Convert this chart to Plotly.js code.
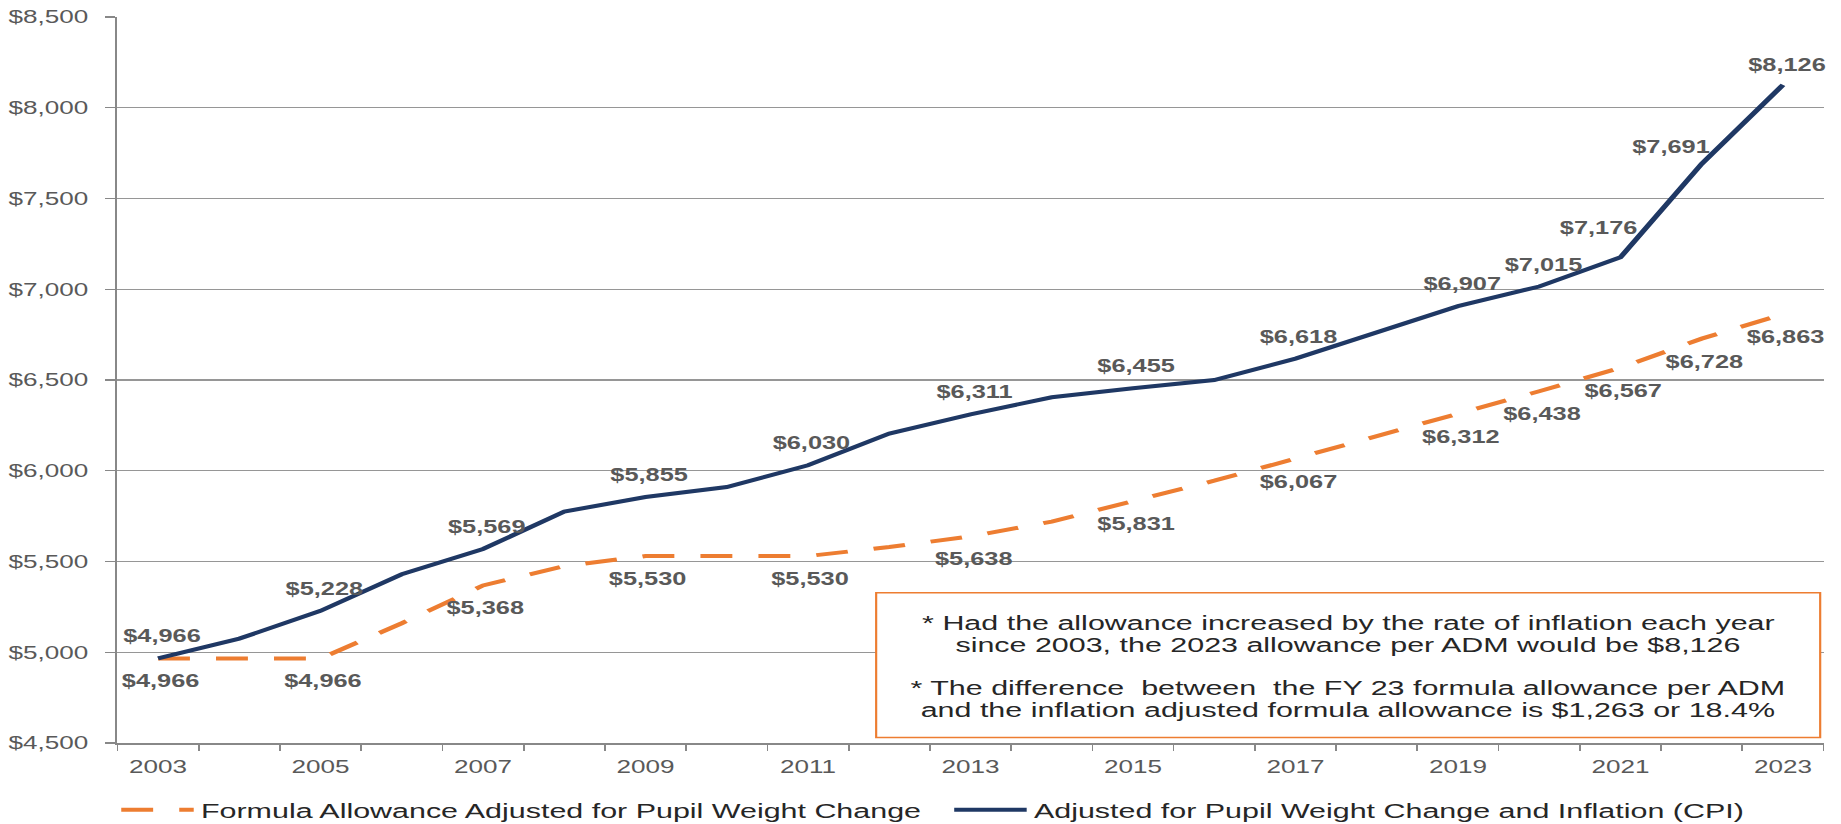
<!DOCTYPE html>
<html>
<head>
<meta charset="utf-8">
<script src="https://cdn.plot.ly/plotly-3.0.1.min.js"></script>
<style>
  html, body { margin:0; padding:0; background:#fff; overflow:hidden; }
  #wrap { width:1270px; height:824px; transform:scaleX(1.4496); transform-origin:0 0; }
</style>
</head>
<body>
<div id="wrap"></div>
<script>
// ---- data ----
const years = [2003,2004,2005,2006,2007,2008,2009,2010,2011,2012,2013,2014,2015,2016,2017,2018,2019,2020,2021,2022,2023];
const formulaAllowance = [4966,4966,4966,5160,5368,5475,5530,5530,5530,5580,5638,5720,5831,5945,6067,6190,6312,6438,6567,6728,6863];
const inflationAdjusted = [4966,5075,5228,5430,5569,5775,5855,5910,6030,6205,6311,6405,6455,6500,6618,6765,6907,7015,7176,7691,8126];
const labelYears = [2003,2005,2007,2009,2011,2013,2015,2017,2019,2020,2021,2022,2023];
const tickYears = [2003,2005,2007,2009,2011,2013,2015,2017,2019,2021,2023];
const seriesNames = ["Formula Allowance Adjusted for Pupil Weight Change", "Adjusted for Pupil Weight Change and Inflation (CPI)"];
const noteLines = [
  "* Had the allowance increased by the rate of inflation each year",
  "since 2003, the 2023 allowance per ADM would be $8,126",
  "* The difference  between  the FY 23 formula allowance per ADM",
  "and the inflation adjusted formula allowance is $1,263 or 18.4%"
];

// ---- styling ----
const FONT = "Liberation Sans, Arial, sans-serif";
const ORANGE = "#ED7D31";
const NAVY = "#1F3864";
const K = 1.4496; // horizontal stretch of the picture

const fmt = v => "$" + v.toLocaleString("en-US");

const traces = [
  {
    x: years, y: formulaAllowance, type: "scatter", mode: "lines",
    name: seriesNames[0],
    line: {color: ORANGE, width: 4, dash: "22px,18px"},
    legend: "legend"
  },
  {
    x: years, y: inflationAdjusted, type: "scatter", mode: "lines",
    name: seriesNames[1],
    line: {color: NAVY, width: 4},
    legend: "legend2"
  }
];

// label offsets (full-picture px)
const blueOffset = {2021: [-22, 29], 2022: [-31, 17], 2023: [5, 20]};
const annotations = [];
years.forEach((yr, i) => {
  if (!labelYears.includes(yr)) return;
  const bo = blueOffset[yr] || [4, 22];
  annotations.push({
    x: yr, y: inflationAdjusted[i], xref: "x", yref: "y", text: fmt(inflationAdjusted[i]),
    showarrow: false, xshift: bo[0] / K, yshift: bo[1],
    font: {family: FONT, size: 17.5, color: "#595959", weight: "bold"}
  });
  annotations.push({
    x: yr, y: formulaAllowance[i], xref: "x", yref: "y", text: fmt(formulaAllowance[i]),
    showarrow: false, xshift: 3 / K, yshift: -23,
    font: {family: FONT, size: 17.5, color: "#595959", weight: "bold"}
  });
});
const noteY = [0.1663, 0.1356, 0.0764, 0.0459];
noteLines.forEach((t, i) => {
  annotations.push({
    x: 0.7215, y: noteY[i], xref: "paper", yref: "paper", text: t,
    showarrow: false, xanchor: "center", yanchor: "middle",
    font: {family: FONT, size: 21, color: "#262626"}
  });
});

const boundaries = years.map(y => y - 0.5).concat([years[years.length - 1] + 0.5]);

const layout = {
  width: 1270, height: 824,
  margin: {l: 81, r: 12, t: 17, b: 81, autoexpand: false},
  paper_bgcolor: "#fff", plot_bgcolor: "#fff",
  font: {family: FONT, color: "#595959"},
  showlegend: true,
  xaxis: {
    range: [years[0] - 0.5, years[years.length - 1] + 0.5],
    tickmode: "array", tickvals: tickYears, ticktext: tickYears.map(String),
    ticks: "", showgrid: false, zeroline: false,
    showline: true, linecolor: "#888", linewidth: 1.5,
    tickfont: {family: FONT, size: 18, color: "#595959"},
    ticklabelstandoff: 7,
    minor: {tickmode: "array", tickvals: boundaries, ticks: "outside", ticklen: 6, tickcolor: "#888", tickwidth: 1.2, showgrid: false}
  },
  yaxis: {
    range: [4500, 8500], tick0: 4500, dtick: 500,
    tickprefix: "$", tickformat: ",d",
    showgrid: true, gridcolor: "#969696", gridwidth: 1.3, zeroline: false,
    showline: true, linecolor: "#888", linewidth: 1.5,
    ticks: "outside", ticklen: 7, tickcolor: "#888", tickwidth: 1.2,
    tickfont: {family: FONT, size: 18, color: "#595959"},
    ticklabelstandoff: 8
  },
  legend: {
    orientation: "h", x: -0.002, xanchor: "left", yref: "container", y: 0.017, yanchor: "middle",
    itemwidth: 50, font: {family: FONT, size: 21, color: "#262626"}, bgcolor: "rgba(0,0,0,0)"
  },
  legend2: {
    orientation: "h", x: 0.4862, xanchor: "left", yref: "container", y: 0.017, yanchor: "middle",
    itemwidth: 50, font: {family: FONT, size: 21, color: "#262626"}, bgcolor: "rgba(0,0,0,0)"
  },
  shapes: [{
    type: "rect", xref: "paper", yref: "paper",
    x0: 0.4447, x1: 0.998, y0: 0.0076, y1: 0.2071,
    line: {color: ORANGE, width: 1.5}, fillcolor: "#fff", layer: "above"
  }],
  annotations: annotations
};

Plotly.newPlot("wrap", traces, layout, {displayModeBar: false, staticPlot: true});
</script>
</body>
</html>
